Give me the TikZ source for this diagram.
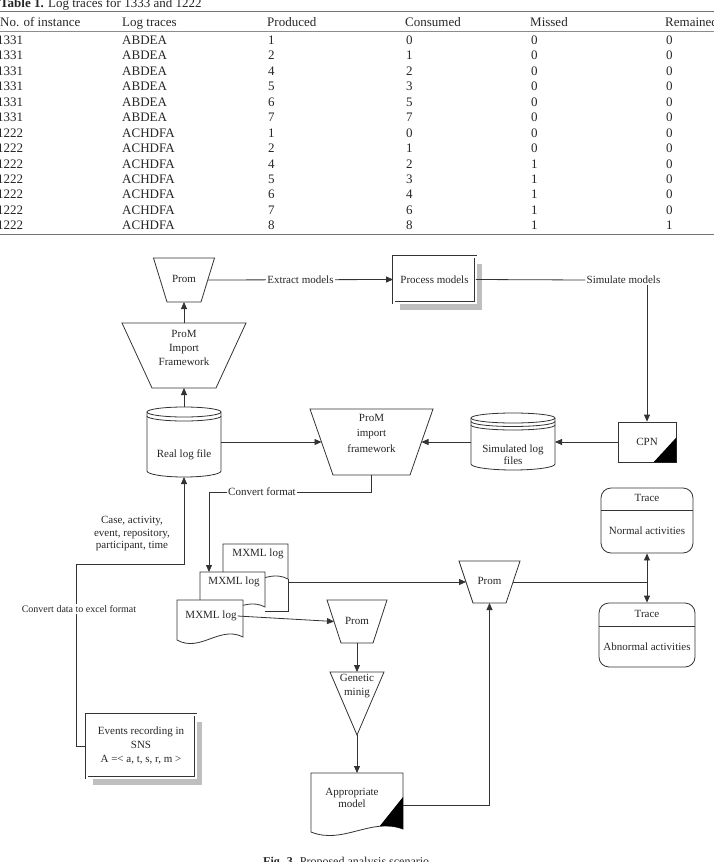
\documentclass[tikz,border=0pt]{standalone}
\usepackage{fontspec}
\setmainfont{Liberation Serif}
\usetikzlibrary{positioning}
\usetikzlibrary{arrows.meta}
\usetikzlibrary{shadows}

\newcommand{\docshape}[4]{(#1,#2) -- (#3,#2) -- (#3,#4-3) .. controls ({#1+0.65*(#3-#1)},{#4-15}) and ({#1+0.35*(#3-#1)},{#4+13}) .. (#1,#4) -- cycle}
\newcommand{\trapshape}[6]{%
  \filldraw[wire, fill=white] ({#2-#4/2},{#3-#6/2}) -- ({#2+#4/2},{#3-#6/2}) -- ({#2+#5/2},{#3+#6/2}) -- ({#2-#5/2},{#3+#6/2}) -- cycle;
  \coordinate (#1-n) at (#2,{#3-#6/2});
  \coordinate (#1-s) at (#2,{#3+#6/2});
  \coordinate (#1-w) at ({#2-(#4+#5)/4},#3);
  \coordinate (#1-e) at ({#2+(#4+#5)/4},#3);
}

\tikzset{
  wire/.style={draw=black!80, line width=0.8pt},
  arr/.style={wire, -{Triangle[length=7pt,width=6pt]}},
  txt/.style={font=\fontsize{11}{14}\selectfont, text=black!85, align=center, inner sep=1pt},
  lbl/.style={txt, fill=white},
  tab/.style={font=\fontsize{13}{15}\selectfont, text=black!85, anchor=base west, inner sep=0pt},
  dbox/.style={rectangle, wire, double, double distance=2pt, fill=white, drop shadow={shadow xshift=6pt, shadow yshift=-7pt, fill=black!25, opacity=1}},
  tracebox/.style={rectangle, wire, rounded corners=10pt}
}

\begin{document}
\begin{tikzpicture}[x=1pt, y=-1pt]
\useasboundingbox (0,0) rectangle (714,862);

\node[tab] (title) at (0,8) {\textbf{Table 1.} Log traces for 1333 and 1222};
\draw[black!55, line width=1.3pt] (0,11.7) -- (714,11.7);
\foreach \x/\t [count=\i] in {0/No. of instance, 122/Log traces, 267/Produced, 405/Consumed, 530/Missed, 665/Remained}
  \node[tab] (h\i) at (\x,26) {\t};
\draw[black!45, line width=1pt] (0,31) -- (714,31);
\foreach \a/\b/\c/\d/\e/\f [count=\r] in {1331/ABDEA/1/0/0/0, 1331/ABDEA/2/1/0/0, 1331/ABDEA/4/2/0/0, 1331/ABDEA/5/3/0/0, 1331/ABDEA/6/5/0/0, 1331/ABDEA/7/7/0/0, 1222/ACHDFA/1/0/0/0, 1222/ACHDFA/2/1/0/0, 1222/ACHDFA/4/2/1/0, 1222/ACHDFA/5/3/1/0, 1222/ACHDFA/6/4/1/0, 1222/ACHDFA/7/6/1/0, 1222/ACHDFA/8/8/1/1}{
  \node[tab] (r\r-a) at (-3,{28.8+15.47*\r}) {\a};
  \node[tab] (r\r-b) at (122,{28.8+15.47*\r}) {\b};
  \node[tab] (r\r-c) at (268,{28.8+15.47*\r}) {\c};
  \node[tab] (r\r-d) at (406,{28.8+15.47*\r}) {\d};
  \node[tab] (r\r-e) at (531,{28.8+15.47*\r}) {\e};
  \node[tab] (r\r-f) at (666,{28.8+15.47*\r}) {\f};
}
\draw[black!55, line width=1.5pt] (0,234.5) -- (714,234.5);

\trapshape{p1}{184}{280}{61}{34}{44}
\node[txt] (prom1) at (184,279) {Prom};
\trapshape{pimp}{184}{355.5}{124}{64}{65}
\node[txt] (pimpt) at (184,348) {ProM\\Import\\Framework};
\trapshape{pif}{371.5}{442}{123}{77}{66}
\node[txt, font=\fontsize{11}{15.5}\selectfont] (pift) at (371.5,433) {ProM\\import\\framework};
\trapshape{p2}{357}{621.5}{60}{32}{43}
\node[txt] (prom2) at (357,621) {Prom};
\trapshape{p3}{489.5}{582}{61}{33}{42}
\node[txt] (prom3) at (489.5,581) {Prom};

\node[dbox, txt, minimum width=82pt, minimum height=46pt] (pm) at (434.5,279.5) {Process models};
\node[txt] (sim) at (623.5,280) {Simulate models};
\node[wire, txt, fill=white, minimum width=58pt, minimum height=40pt] (cpn) at (647,442) {CPN};
\fill[black] (cpn.south east) -- ++(0,-25) -- ++(-23,25) -- cycle;

\filldraw[wire, fill=white] (147,412) -- (147,471) arc (180:0:37 and 6) -- (221,412) arc (0:-180:37 and 5) -- cycle;
\draw[wire] (147,412) arc (180:0:37 and 5);
\draw[wire] (147,416) arc (180:0:37 and 5);
\node[txt] (rlft) at (184,455) {Real log file};
\coordinate (rlf-n) at (184,407);
\coordinate (rlf-e) at (221,442);
\coordinate (rlf-s) at (184,477);

\filldraw[wire, fill=white] (471,418) -- (471,464) arc (180:0:42 and 6) -- (555,418) arc (0:-180:42 and 5) -- cycle;
\draw[wire] (471,418) arc (180:0:42 and 5);
\draw[wire] (471,421.5) arc (180:0:42 and 5);
\draw[wire] (471,425) arc (180:0:42 and 5);
\node[txt, font=\fontsize{11}{12}\selectfont] (slft) at (513,455) {Simulated log\\files};
\coordinate (slf-w) at (471,442);
\coordinate (slf-e) at (555,442);

\draw[arr] (p1-e) -- node[lbl] (ext) {Extract models} (pm.west);
\draw[wire] (pm.east) -- (sim.west);
\draw[arr] (sim.south -| cpn.north) -- (cpn.north);
\draw[arr] (cpn.west) -- (slf-e);
\draw[arr] (slf-w) -- (pif-e);
\draw[arr] (rlf-e) -- (pif-w);
\draw[arr] (rlf-n) -- (pimp-s);
\draw[arr] (pimp-n) -- (p1-s);

\filldraw[wire, fill=white] \docshape{223}{544}{288}{582};
\draw[wire] (288,579) -- (288,611) -- (265,611);
\filldraw[wire, fill=white] \docshape{200}{572}{265}{610};
\filldraw[wire, fill=white] \docshape{177}{600}{243}{640};
\node[txt] (mx1) at (258,554) {MXML log};
\node[txt] (mx2) at (234,582) {MXML log};
\node[txt] (mx3) at (211,616) {MXML log};
\coordinate (mx1-e) at (288,582);
\coordinate (mx2-n) at (209,572);

\node[lbl] (cf) at (262,492) {Convert format};
\draw[wire] (pif-s) |- (cf.east);
\draw[arr] (cf.west) -| (mx2-n);

\filldraw[wire, fill=white] (330,672) -- (384,672) -- (357,735) -- cycle;
\node[txt] (gen) at (357,686) {Genetic\\minig};
\coordinate (gen-n) at (357,672);
\coordinate (gen-s) at (357,735);

\filldraw[wire, fill=white] \docshape{311}{773}{403}{832};
\begin{scope}
  \clip (403,797) -- (375,832) -- (410,850) -- (410,797) -- cycle;
  \fill[black] \docshape{311}{773}{403}{832};
\end{scope}
\node[txt, font=\fontsize{11}{12.5}\selectfont] (am) at (352,798) {Appropriate\\model};
\coordinate (am-n) at (357,773);
\coordinate (am-e) at (403,805);

\node[tracebox, minimum width=92pt, minimum height=65pt] (tn) at (647,520.5) {};
\draw[wire] (601,510) -- (693,510);
\node[txt] (tn1) at (647,498) {Trace};
\node[txt] (tn2) at (647,531) {Normal activities};
\node[tracebox, minimum width=96pt, minimum height=64pt] (ta) at (647,635) {};
\draw[wire] (599,626) -- (695,626);
\node[txt] (ta1) at (647,614) {Trace};
\node[txt] (ta2) at (647,647) {Abnormal activities};
\coordinate (split) at (647,582);

\draw[arr] (mx3.east) -- (p2-w);
\draw[arr] (mx1-e) -- (p3-w);
\draw[arr] (p2-s) -- (gen-n);
\draw[arr] (gen-s) -- (am-n);
\draw[arr] (am-e) -| (p3-s);
\draw[wire] (p3-e) -- (split);
\draw[arr] (split) -- (tn.south);
\draw[arr] (split) -- (ta.north);

\node[dbox, txt, minimum width=109pt, minimum height=63pt] (ev) at (141,746) {Events recording in\\SNS\\A =< a, t, s, r, m >};
\draw[arr] (ev.west) -| (76,564) -| (rlf-s);
\node[lbl, font=\fontsize{10}{12}\selectfont] (cde) at (79,609) {Convert data to excel format};
\node[txt, font=\fontsize{11}{12.5}\selectfont] (cae) at (132,534) {Case, activity,\\event, repository,\\participant, time};

\node[anchor=north west, inner sep=0pt, font=\fontsize{12}{14}\selectfont, text=black!85] (cap) at (263,857) {\textbf{Fig. 3.} Proposed analysis scenario};
\end{tikzpicture}
\end{document}
